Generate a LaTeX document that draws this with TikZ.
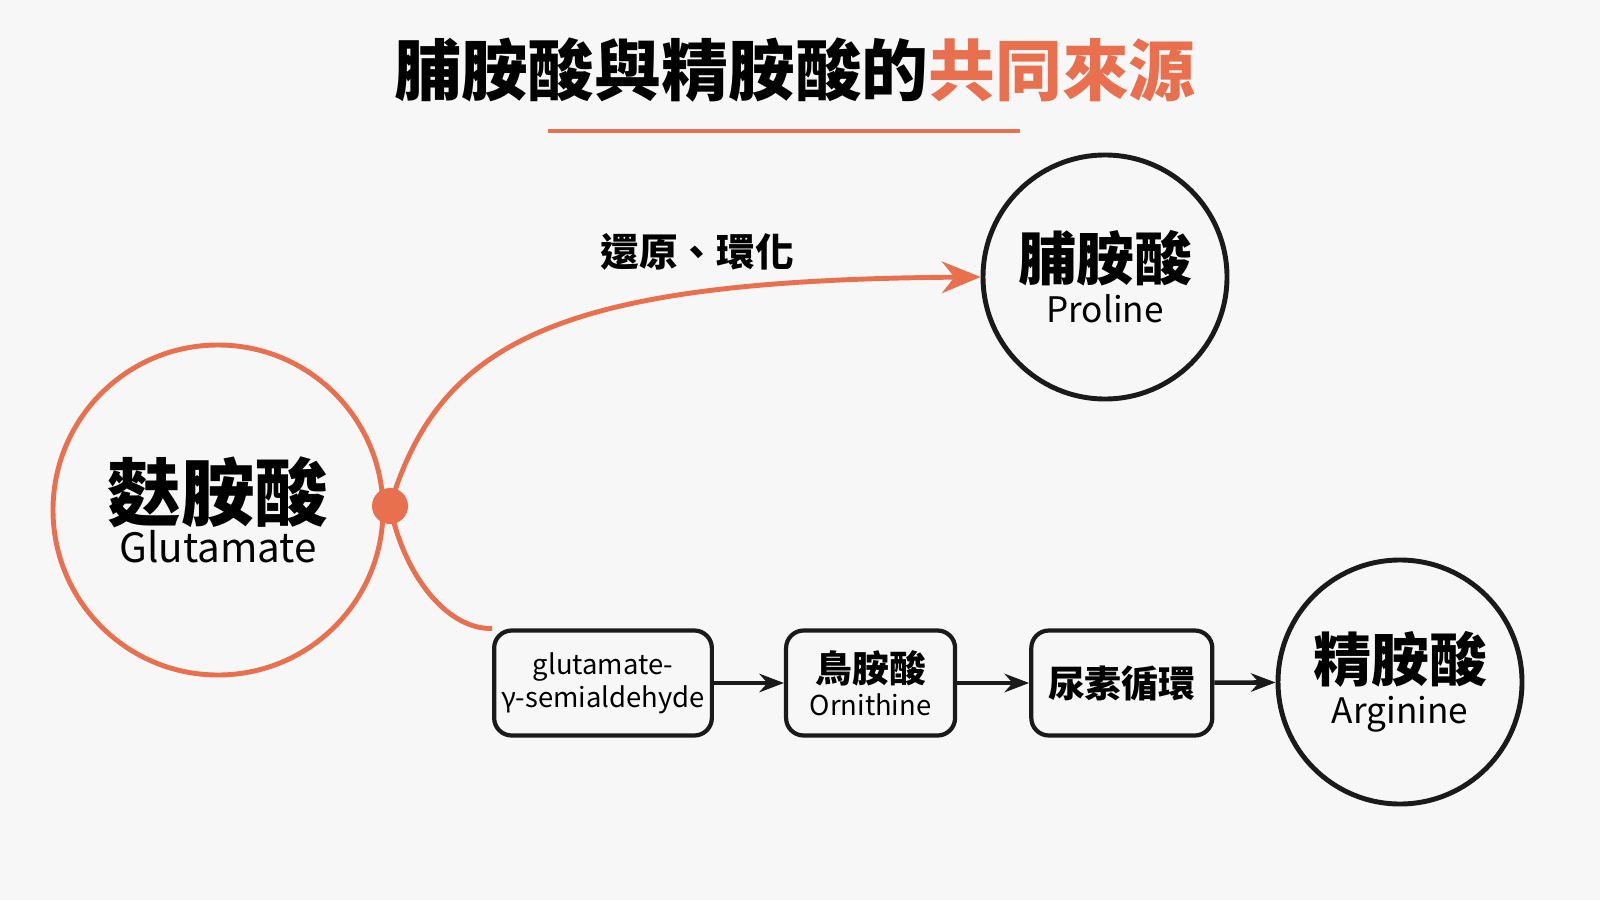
\documentclass[tikz,border=0pt]{standalone}
\usepackage{fontspec}
\setmainfont{Noto Sans CJK TC}
\usetikzlibrary{positioning,arrows.meta}
\definecolor{accent}{HTML}{E8704F}
\definecolor{ink}{HTML}{1A1A1A}
\definecolor{paper}{HTML}{F7F7F7}
\tikzset{
  amino/.style={circle,draw=ink,line width=1.4pt,align=center,inner sep=0pt},
  stage/.style={draw=ink,line width=1.2pt,rounded corners=5pt,align=center,minimum height=1.05cm,inner xsep=2pt,font=\fontsize{7.8}{9.5}\selectfont},
  flow/.style={-{Stealth[length=7pt]},line width=1.3pt,ink}
}
\begin{document}
\begin{tikzpicture}
      \fill[paper] (0,0) rectangle (16,9);
      \useasboundingbox (0,0) rectangle (16,9);

      \node[font=\fontsize{19}{22}\selectfont\bfseries] (title) at (7.95,8.3)
        {脯胺酸與精胺酸的\textcolor{accent}{共同來源}};
      \draw[accent,line width=1pt] (5.48,7.69) -- (10.2,7.69);

      \node[amino,draw=accent,minimum size=3.3cm] (glu) at (2.18,3.9)
        {{\fontsize{21}{24}\selectfont\bfseries 麩胺酸}\\[0pt]{\fontsize{11.5}{13}\selectfont Glutamate}};
      \node[amino,minimum size=2.44cm] (pro) at (11.05,6.23)
        {{\fontsize{16.5}{19}\selectfont\bfseries 脯胺酸}\\[0pt]{\fontsize{10}{12}\selectfont Proline}};
      \node[amino,minimum size=2.44cm] (arg) at (14.0,2.18)
        {{\fontsize{16.5}{19}\selectfont\bfseries 精胺酸}\\[0pt]{\fontsize{10}{12}\selectfont Arginine}};

      \node[stage,minimum width=2.12cm] (gsa) at (6.03,2.17) {glutamate-\\γ-semialdehyde};
      \node[stage,minimum width=1.69cm,right=0.7cm of gsa] (orn) {{\fontsize{10.5}{12}\selectfont\bfseries 鳥胺酸}\\Ornithine};
      \node[stage,minimum width=1.81cm,right=0.72cm of orn] (urea) {{\fontsize{10.5}{12}\selectfont\bfseries 尿素循環}};

      \coordinate (hub) at (3.9,3.94);
      \draw[accent,line width=1.4pt,-{Stealth[length=11pt,width=9pt]}]
        (hub) .. controls (4.4,5.6) and (5.6,6.2) .. (pro.west);
      \draw[accent,line width=1.4pt] (hub) .. controls (4.05,3.2) and (4.5,2.7) .. (gsa.north west);
      \fill[accent] (hub) circle (0.18);
      \node[font=\fontsize{11}{13}\selectfont\bfseries] (lab) at (6.97,6.48) {還原、環化};

      \draw[flow] (gsa) -- (orn);
      \draw[flow] (orn) -- (urea);
      \draw[flow] (urea) -- (arg);
\end{tikzpicture}
\end{document}
